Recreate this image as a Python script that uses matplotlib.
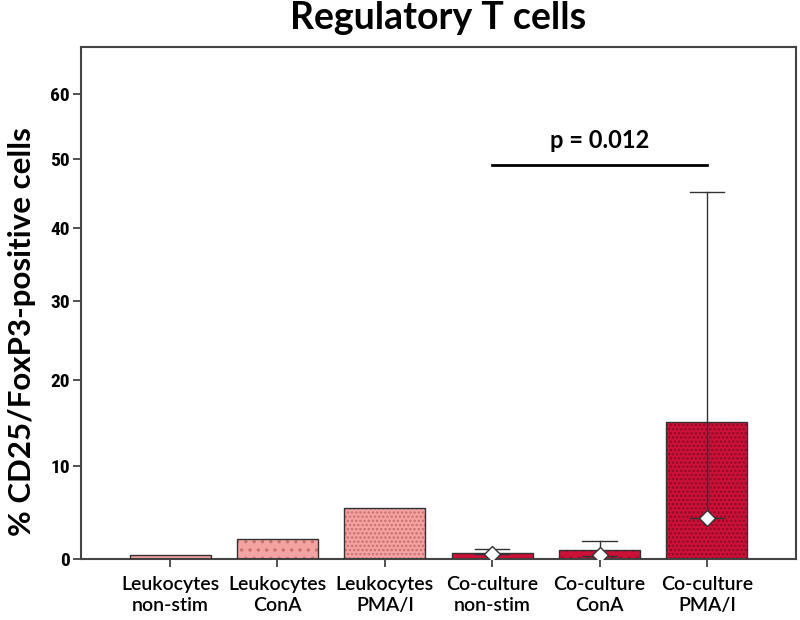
import numpy as np
import matplotlib
matplotlib.use("Agg")
import matplotlib.pyplot as plt
from matplotlib import font_manager

categories = ["Leukocytes\nnon-stim", "Leukocytes\nConA", "Leukocytes\nPMA/I",
              "Co-culture\nnon-stim", "Co-culture\nConA", "Co-culture\nPMA/I"]
bar_values = [0.4, 2.1, 5.4, 0.65, 0.96, 15.0]
median_values = [None, None, None, 0.5, 0.42, 4.3]
err_low = [None, None, None, 0.5, 0.35, 4.3]
err_high = [None, None, None, 1.0, 1.82, 45.0]
y_ticks = [0, 10, 20, 30, 40, 50, 60]
p_text = "p = 0.012"
p_from, p_to, p_level = 3, 5, 49.0

light = "#F4A3A3"
light_hatch = "#C97070"
dark = "#CC1038"
dark_hatch = "#8E0A25"
fills = [light, light, light, dark, dark, dark]
hatch_cols = [light_hatch, light_hatch, light_hatch, dark_hatch, dark_hatch, dark_hatch]
hatches = [None, "..", "....", None, "..", "...."]

C = 110.0
def fwd(v):
    v = np.asarray(v, dtype=float)
    return np.log((np.clip(v, -C + 1e-6, None) + C) / C)
def inv(u):
    return C * (np.exp(np.asarray(u, dtype=float)) - 1)

def pick(fams):
    avail = {f.name for f in font_manager.fontManager.ttflist}
    for f in fams:
        if f in avail:
            return f
    return "DejaVu Sans"

narrow = pick(["Liberation Sans Narrow", "Roboto Condensed", "Liberation Sans"])
calib = pick(["Lato", "Open Sans", "DejaVu Sans"])

plt.rcParams["hatch.linewidth"] = 1.2

fig = plt.figure(figsize=(8, 6.2), dpi=100)
ax = fig.add_axes([81/800, 1 - 559/620, (796-81)/800, (559-47)/620])
ax.set_yscale("function", functions=(fwd, inv))

x = np.arange(len(categories))
w = 0.755
for i, (xi, v) in enumerate(zip(x, bar_values)):
    ax.bar(xi, v, width=w, color=fills[i], edgecolor=hatch_cols[i],
           hatch=hatches[i], linewidth=0, zorder=2)
    ax.bar(xi, v, width=w, facecolor="none", edgecolor="#333333",
           linewidth=1.0, zorder=3)

for i, xi in enumerate(x):
    if err_high[i] is not None:
        ax.plot([xi, xi], [err_low[i], err_high[i]], color="#333333", lw=1.0, zorder=4)
        ax.plot([xi - 0.16, xi + 0.16], [err_high[i], err_high[i]], color="#333333", lw=1.0, zorder=4)
        ax.plot([xi - 0.16, xi + 0.16], [err_low[i], err_low[i]], color="#333333", lw=1.0, zorder=4)
    if median_values[i] is not None:
        ax.plot(xi, median_values[i], marker="D", ms=8, mfc="white", mec="#333333",
                mew=1.0, zorder=5)

ax.plot([p_from, p_to], [p_level, p_level], color="black", lw=2, zorder=4)
ax.text((p_from + p_to) / 2, p_level + 2.0, p_text, ha="center", va="bottom",
        fontsize=17, fontweight="bold", family=calib)

ax.set_xlim(-0.83, 5.83)
ax.set_ylim(0, 67.6)
ax.set_yticks(y_ticks)
ax.set_yticklabels([str(t) for t in y_ticks], fontsize=14, fontweight="bold", family=narrow)
ax.set_xticks(x)
ax.set_xticklabels(categories, fontsize=14, family=calib, fontweight="semibold",
                   linespacing=1.3)
ax.tick_params(axis="x", length=6, width=1.2, color="#333333", pad=6)
ax.tick_params(axis="y", length=6, width=1.2, color="#333333", pad=2)
for s in ax.spines.values():
    s.set_linewidth(1.5)
    s.set_color("#444444")

ax.set_ylabel("% CD25/FoxP3-positive cells", fontsize=22.5, fontweight="bold",
              family=calib)
ax.yaxis.set_label_coords(-0.063, 0.445)
fig.text(438/800, 1 - 18/620, "Regulatory T cells", ha="center", va="center",
         fontsize=27, fontweight="bold", family=calib)

fig.savefig("out.png", dpi=100)
